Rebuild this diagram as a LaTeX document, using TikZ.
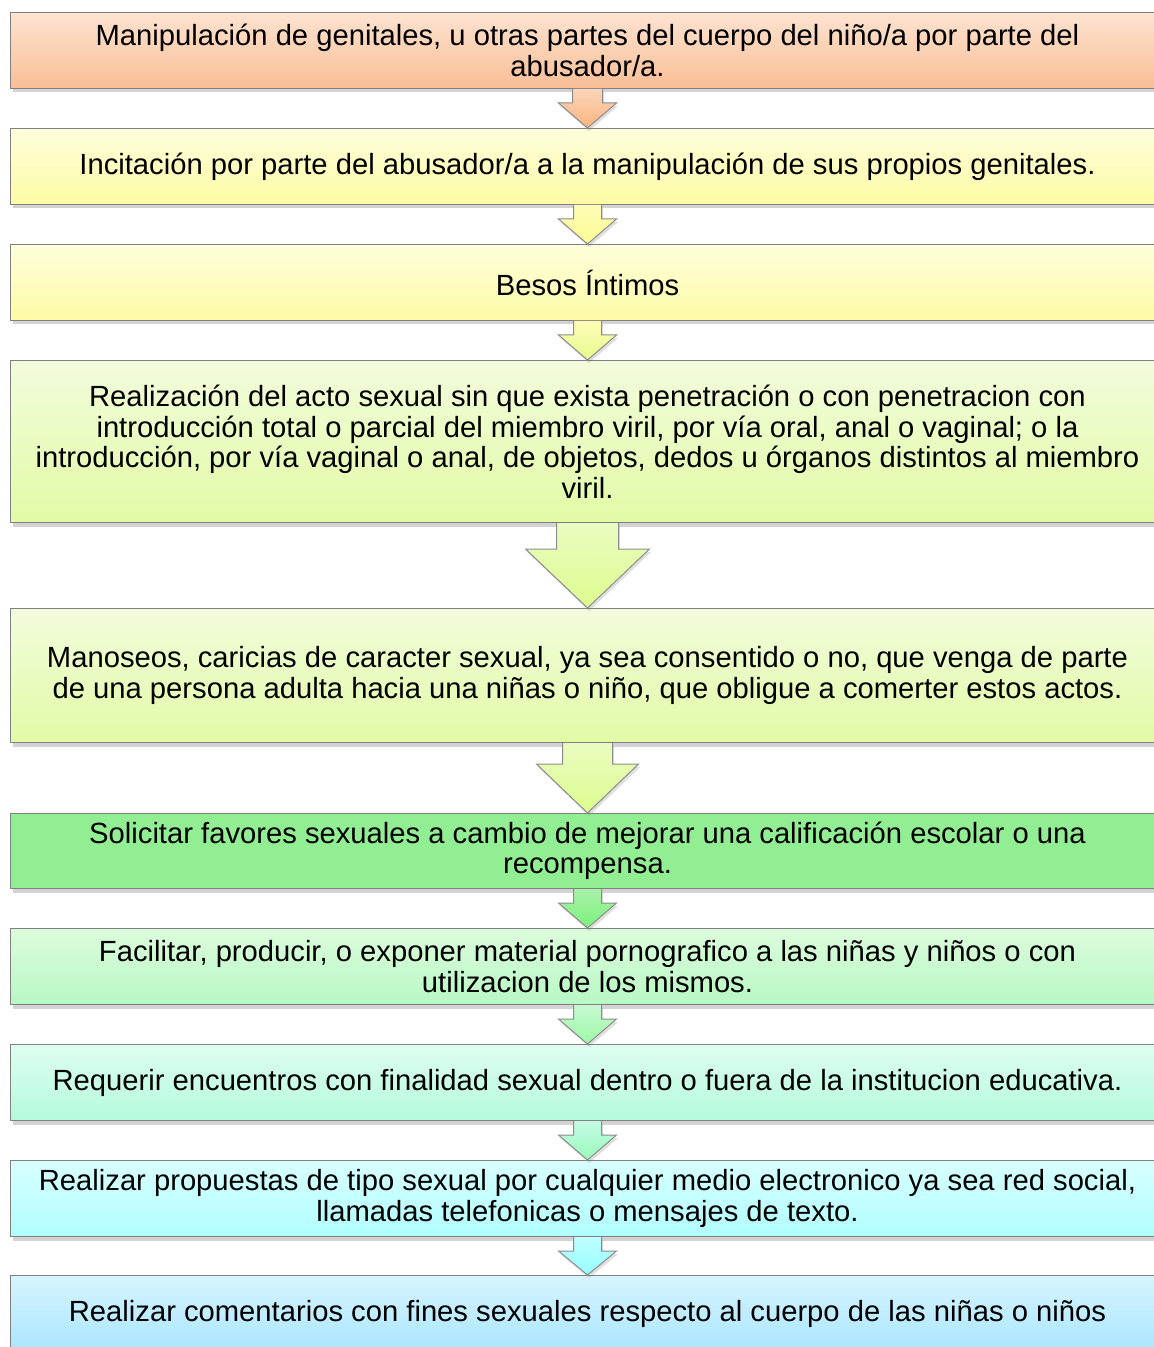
\documentclass[tikz,border=0pt]{standalone}
\usepackage{fontspec}
\setmainfont{Liberation Sans}
\usetikzlibrary{calc}
\usetikzlibrary{shadows}

\definecolor{naranjaA}{HTML}{FDE3D0}
\definecolor{naranjaB}{HTML}{F9BE96}
\definecolor{amarilloA}{HTML}{FEFEDC}
\definecolor{amarilloB}{HTML}{FDFBA4}
\definecolor{limaA}{HTML}{F2FCDC}
\definecolor{limaB}{HTML}{E2FBA6}
\definecolor{verde}{HTML}{92EE92}
\definecolor{verdeA}{HTML}{DCFCDC}
\definecolor{verdeB}{HTML}{B8F8C4}
\definecolor{mentaA}{HTML}{DEFEF0}
\definecolor{mentaB}{HTML}{B4FADC}
\definecolor{cianA}{HTML}{D8FFFF}
\definecolor{cianB}{HTML}{B0FEFF}
\definecolor{celesteA}{HTML}{D6F4FF}
\definecolor{celesteB}{HTML}{AAE6FF}

\tikzset{
  caja/.style={draw=black!50, line width=0.5pt, anchor=north west, minimum width=577pt,
    inner sep=0pt, align=center, font=\fontsize{14.6}{15.25}\selectfont,
    drop shadow={shadow xshift=1pt, shadow yshift=-2pt, opacity=0.35}},
  flecha/.style={draw=black!45, line width=0.5pt, line join=miter,
    drop shadow={shadow xshift=0.8pt, shadow yshift=-1.5pt, opacity=0.25}}
}
% flecha de bloque: desde, hasta, medio tallo, media punta, largo tallo, color arriba, color abajo
\newcommand{\flechabloque}[7]{
  \draw[flecha, top color=#6, bottom color=#7]
    ($(#1.south)+(-#3,0)$) -- ($(#1.south)+(-#3,#5)$) -- ($(#1.south)+(-#4,#5)$) -- (#2.north)
    -- ($(#1.south)+(#4,#5)$) -- ($(#1.south)+(#3,#5)$) -- ($(#1.south)+(#3,0)$);
}

\begin{document}
\begin{tikzpicture}[x=0.5pt,y=-0.5pt]
	\useasboundingbox (0,0) rectangle (1154,1347);
	\clip (0,0) rectangle (1154,1347);
	\node[caja, minimum height=38pt, top color=naranjaA, bottom color=naranjaB] (manip) at (10,12)
		{Manipulación de genitales, u otras partes del cuerpo del niño/a por parte del\\abusador/a.};
	\node[caja, minimum height=38pt, top color=amarilloA, bottom color=amarilloB] (incit) at (10,128)
		{Incitación por parte del abusador/a a la manipulación de sus propios genitales.};
	\node[caja, minimum height=38pt, top color=amarilloA, bottom color=amarilloB] (besos) at (10,244)
		{Besos Íntimos};
	\node[caja, minimum height=81pt, top color=limaA, bottom color=limaB] (acto) at (10,360)
		{Realización del acto sexual sin que exista penetración o con penetracion con\\introducción total o parcial del miembro viril, por vía oral, anal o vaginal; o la\\introducción, por vía vaginal o anal, de objetos, dedos u órganos distintos al miembro\\viril.};
	\node[caja, minimum height=67pt, top color=limaA, bottom color=limaB] (manoseo) at (10,608)
		{Manoseos, caricias de caracter sexual, ya sea consentido o no, que venga de parte\\de una persona adulta hacia una niñas o niño, que obligue a comerter estos actos.};
	\node[caja, minimum height=37.5pt, fill=verde] (favores) at (10,813)
		{Solicitar favores sexuales a cambio de mejorar una calificación escolar o una\\recompensa.};
	\node[caja, minimum height=38pt, top color=verdeA, bottom color=verdeB] (material) at (10,928)
		{Facilitar, producir, o exponer material pornografico a las niñas y niños o con\\utilizacion de los mismos.};
	\node[caja, minimum height=38pt, top color=mentaA, bottom color=mentaB] (encuentro) at (10,1044)
		{Requerir encuentros con finalidad sexual dentro o fuera de la institucion educativa.};
	\node[caja, minimum height=38pt, top color=cianA, bottom color=cianB] (propuesta) at (10,1160)
		{Realizar propuestas de tipo sexual por cualquier medio electronico ya sea red social,\\llamadas telefonicas o mensajes de texto.};
	\node[caja, minimum height=38pt, top color=celesteA, bottom color=celesteB] (coment) at (10,1275)
		{Realizar comentarios con fines sexuales respecto al cuerpo de las niñas o niños};

	\flechabloque{manip}{incit}{15}{29}{14}{naranjaA!60!naranjaB}{naranjaB!85!orange}
	\flechabloque{incit}{besos}{14}{29}{14}{amarilloB!80!white}{amarilloB!90!yellow}
	\flechabloque{besos}{acto}{14}{29}{14}{amarilloB!80!white}{limaB!85!yellow}
	\flechabloque{acto}{manoseo}{31}{62}{26}{limaB!70!white}{limaB!85!lime}
	\flechabloque{manoseo}{favores}{25}{51}{21}{limaB!70!white}{limaB!85!lime}
	\flechabloque{favores}{material}{14}{29}{14}{verde!80!white}{verde!85!green}
	\flechabloque{material}{encuentro}{14}{29}{14}{verdeB!80!white}{verdeB!85!green}
	\flechabloque{encuentro}{propuesta}{14}{29}{14}{mentaB!80!white}{mentaB!85!green}
	\flechabloque{propuesta}{coment}{14}{29}{14}{cianB!80!white}{cianB!85!cyan}
\end{tikzpicture}
\end{document}
